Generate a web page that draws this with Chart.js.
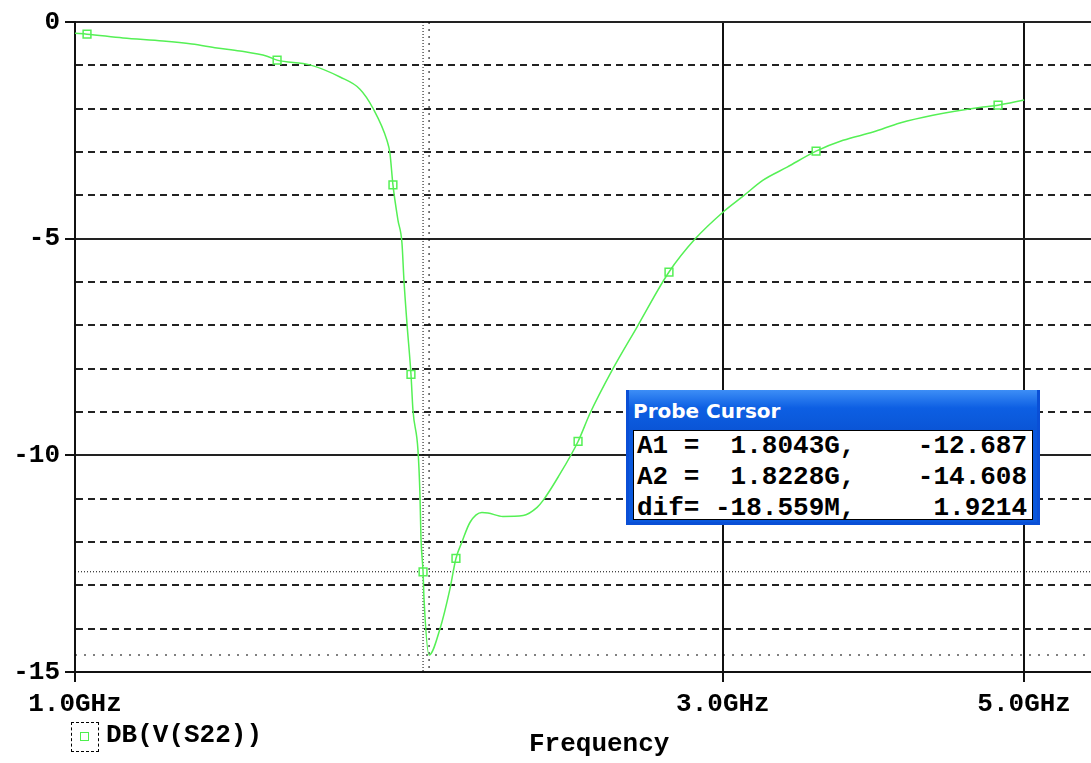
<!DOCTYPE html>
<html>
<head>
<meta charset="utf-8">
<script src="https://cdn.jsdelivr.net/npm/chart.js@4.4.1/dist/chart.umd.min.js"></script>
<style>
  body { margin: 0; background: #fff; }
  #wrap { position: relative; width: 1091px; height: 763px; overflow: hidden; }
  .mono { font-family: "Liberation Mono", "DejaVu Sans Mono", monospace; font-weight: bold; font-size: 26px; color: #000; white-space: pre; }
  #probe { position: absolute; left: 626px; top: 390px; width: 408px; height: 132px;
    border: 3px solid #0a4fd6; border-top: none; background: #0a58dc; }
  #probe .bar { height: 40px; background: linear-gradient(#3d8ef6, #0d5fe3 45%, #0a55d6);
    color: #fff; font-family: "DejaVu Sans", sans-serif; font-weight: bold; font-size: 20px;
    line-height: 42px; padding-left: 4px; }
  #probe .body { position: absolute; left: 4px; top: 40px; right: 4px; bottom: 2px;
    background: #fff; border: 1px solid #000; padding-left: 3px; line-height: 31px; }
  #legend-icon { position: absolute; left: 71px; top: 722px; width: 26px; height: 28px; border: 1px dashed #000; }
  #legend-icon i { position: absolute; left: 8px; top: 9px; width: 7px; height: 7px; border: 1.5px solid #4ef04e; }
  #legend-text { position: absolute; left: 106px; top: 720px; line-height: 31px; }
  #xtitle { position: absolute; left: 529px; top: 729px; line-height: 31px; }
</style>
</head>
<body>
<div id="wrap">
  <canvas id="chart" width="1091" height="763"></canvas>
  <div id="probe">
    <div class="bar">Probe Cursor</div>
    <div class="body mono" id="probe-rows"></div>
  </div>
  <div id="legend-icon"><i></i></div>
  <div id="legend-text" class="mono">DB(V(S22))</div>
  <div id="xtitle" class="mono">Frequency</div>
</div>
<script>
// trace values
var freqGHz = [1.000, 1.0206, 1.0848, 1.161, 1.2193, 1.2722, 1.3228, 1.3849, 1.4087, 1.4892,
    1.5673, 1.6212, 1.6574, 1.6971, 1.7058, 1.7145, 1.7291, 1.7409, 1.7468, 1.7557,
    1.7677, 1.7737, 1.7888, 1.7949, 1.7979, 1.8043, 1.8072, 1.8228, 1.857, 1.888,
    1.9078, 1.9273, 1.9536, 1.9937, 2.0141, 2.0659, 2.138, 2.1893, 2.2117, 2.2688,
    2.3467, 2.3949, 2.4858, 2.5934, 2.7379, 2.8612, 3.0, 3.1045, 3.2116,
    3.3451, 3.5135, 3.678, 3.87, 4.0503, 4.283, 4.6632, 4.7833, 5.0];
var s22dB = [-0.26, -0.28, -0.37, -0.44, -0.51, -0.60, -0.67, -0.79, -0.88, -0.99,
    -1.27, -1.55, -1.99, -2.73, -3.03, -3.76, -4.57, -5.1, -5.96, -6.95,
    -8.13, -8.96, -9.88, -10.92, -11.9, -12.687, -13.3, -14.608, -14.0, -13.1,
    -12.38, -12.0, -11.55, -11.32, -11.33, -11.41, -11.39, -11.2, -11.04, -10.5,
    -9.68, -9.03, -8.04, -7.04, -5.77, -5.01, -4.39, -4.02, -3.65,
    -3.35, -2.98, -2.73, -2.54, -2.33, -2.15, -1.96, -1.92, -1.80];

// symbol markers on the trace
var markerFreqGHz = [1.0206, 1.4087, 1.7145, 1.7677, 1.8043, 1.9078, 2.3467, 2.7379, 3.5135, 4.7833];
var markerdB = [-0.28, -0.88, -3.76, -8.13, -12.687, -12.38, -9.68, -5.77, -2.98, -1.92];

// probe cursors
var cursorFreqGHz = [1.8043, 1.8228];
var cursordB = [-12.687, -14.608];
var cursorDif = ['-18.559M', '1.9214'];

var xTicksGHz = [1, 3, 5];
var xMin = 1, xMax = 5.6;
var yMin = -15, yMax = 0;

var green = '#55f055';

// probe cursor window text
var rows = [
    'A1 =  ' + cursorFreqGHz[0].toFixed(4) + 'G,    ' + cursordB[0].toFixed(3),
    'A2 =  ' + cursorFreqGHz[1].toFixed(4) + 'G,    ' + cursordB[1].toFixed(3),
    'dif= ' + cursorDif[0] + ',     ' + cursorDif[1]
];
document.getElementById('probe-rows').textContent = rows.join('\n');

function cursorV(i, dash) {
    return {
        data: [{x: cursorFreqGHz[i], y: yMax}, {x: cursorFreqGHz[i], y: yMin}],
        borderColor: '#000', borderWidth: 1, borderDash: dash, pointRadius: 0
    };
}
function cursorH(i, dash) {
    return {
        data: [{x: xMin, y: cursordB[i]}, {x: xMax, y: cursordB[i]}],
        borderColor: '#000', borderWidth: 1, borderDash: dash, pointRadius: 0
    };
}

var monoFont = {family: '"Liberation Mono", "DejaVu Sans Mono", monospace', weight: 'bold', size: 26};

var ctx = document.getElementById('chart').getContext('2d');
var chart = new Chart(ctx, {
    type: 'line',
    data: {
        datasets: [
            {
                label: 'DB(V(S22))',
                data: freqGHz.map(function (f, i) { return {x: f, y: s22dB[i]}; }),
                borderColor: green, borderWidth: 1.5, pointRadius: 0,
                cubicInterpolationMode: 'monotone'
            },
            {
                label: 'markers',
                data: markerFreqGHz.map(function (f, i) { return {x: f, y: markerdB[i]}; }),
                showLine: false, pointStyle: 'rect', pointRadius: 5.5,
                pointBorderColor: green, pointBackgroundColor: '#fff', pointBorderWidth: 1.5
            },
            cursorH(0, [1, 2]),
            cursorH(1, [2, 7]),
            cursorV(0, [1, 2]),
            cursorV(1, [2, 5])
        ]
    },
    options: {
        responsive: false,
        animation: false,
        layout: {autoPadding: false, padding: {top: 22, right: 0, left: 0, bottom: 0}},
        plugins: {legend: {display: false}, tooltip: {enabled: false}},
        scales: {
            x: {
                type: 'logarithmic',
                min: xMin, max: xMax,
                afterBuildTicks: function (scale) {
                    scale.ticks = xTicksGHz.map(function (v) { return {value: v}; });
                },
                afterFit: function (scale) {
                    scale.height = 91;
                    scale.paddingLeft = 0;
                    scale.paddingRight = 0;
                },
                ticks: {
                    autoSkip: false, maxRotation: 0, padding: 7,
                    color: '#000', font: monoFont,
                    callback: function (v) { return v.toFixed(1) + 'GHz'; }
                },
                grid: {color: '#111', lineWidth: 2, tickLength: 10, tickColor: '#111', tickWidth: 2},
                border: {color: '#111', width: 2}
            },
            y: {
                min: yMin, max: yMax,
                afterFit: function (scale) {
                    scale.width = 75;
                    scale.paddingTop = 0;
                    scale.paddingBottom = 0;
                },
                ticks: {
                    stepSize: 1, autoSkip: false, padding: 5,
                    color: '#000', font: monoFont,
                    callback: function (v) { return v % 5 === 0 ? String(v) : ''; }
                },
                grid: {
                    color: '#222', lineWidth: 2, tickLength: 10, tickWidth: 2,
                    tickColor: function (c) {
                        return c.tick && c.tick.value % 5 === 0 ? '#111' : 'rgba(0,0,0,0)';
                    }
                },
                border: {
                    color: '#111', width: 2,
                    dash: function (c) {
                        return c.tick && c.tick.value % 5 !== 0 ? [7, 5] : [];
                    }
                }
            }
        }
    }
});
</script>
</body>
</html>
